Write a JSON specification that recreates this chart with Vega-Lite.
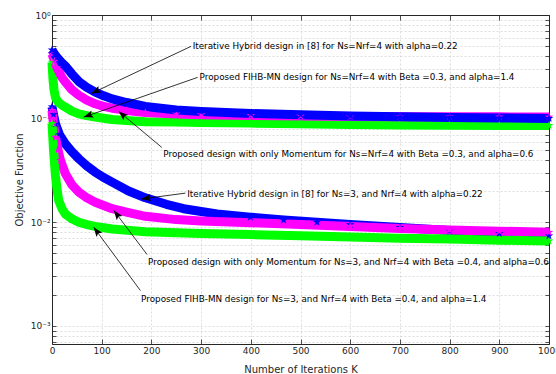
{
  "$schema": "https://vega.github.io/schema/vega-lite/v6.json",
  "autosize": "none",
  "width": 497,
  "height": 329,
  "padding": {"left": 52, "top": 15, "right": 7, "bottom": 30},
  "background": "white",
  "config": {
    "view": {"stroke": null},
    "font": "DejaVu Sans",
    "axis": {
      "domainColor": "#262626",
      "tickColor": "#262626",
      "labelColor": "#262626",
      "titleColor": "#262626",
      "labelFont": "DejaVu Sans",
      "titleFont": "DejaVu Sans",
      "labelFontSize": 9,
      "titleFontSize": 10,
      "titleFontWeight": "normal",
      "gridColor": "#d4d4d4",
      "gridDash": [2, 2],
      "gridWidth": 0.8,
      "labelFlush": false,
      "labelOverlap": false,
      "labelBound": false,
      "domainWidth": 1,
      "tickWidth": 0.8
    }
  },
  "datasets": {
    "curves": [
      {"series": "Iterative Hybrid [8], Ns=3, Nrf=4", "method": "Iterative Hybrid [8]", "k": 0, "f": 0.13},
      {"series": "Iterative Hybrid [8], Ns=3, Nrf=4", "method": "Iterative Hybrid [8]", "k": 3, "f": 0.11},
      {"series": "Iterative Hybrid [8], Ns=3, Nrf=4", "method": "Iterative Hybrid [8]", "k": 7, "f": 0.089},
      {"series": "Iterative Hybrid [8], Ns=3, Nrf=4", "method": "Iterative Hybrid [8]", "k": 15, "f": 0.07},
      {"series": "Iterative Hybrid [8], Ns=3, Nrf=4", "method": "Iterative Hybrid [8]", "k": 27, "f": 0.057},
      {"series": "Iterative Hybrid [8], Ns=3, Nrf=4", "method": "Iterative Hybrid [8]", "k": 40, "f": 0.048},
      {"series": "Iterative Hybrid [8], Ns=3, Nrf=4", "method": "Iterative Hybrid [8]", "k": 54, "f": 0.041},
      {"series": "Iterative Hybrid [8], Ns=3, Nrf=4", "method": "Iterative Hybrid [8]", "k": 70, "f": 0.035},
      {"series": "Iterative Hybrid [8], Ns=3, Nrf=4", "method": "Iterative Hybrid [8]", "k": 87, "f": 0.0304},
      {"series": "Iterative Hybrid [8], Ns=3, Nrf=4", "method": "Iterative Hybrid [8]", "k": 104, "f": 0.027},
      {"series": "Iterative Hybrid [8], Ns=3, Nrf=4", "method": "Iterative Hybrid [8]", "k": 121, "f": 0.0244},
      {"series": "Iterative Hybrid [8], Ns=3, Nrf=4", "method": "Iterative Hybrid [8]", "k": 154, "f": 0.02},
      {"series": "Iterative Hybrid [8], Ns=3, Nrf=4", "method": "Iterative Hybrid [8]", "k": 188, "f": 0.0172},
      {"series": "Iterative Hybrid [8], Ns=3, Nrf=4", "method": "Iterative Hybrid [8]", "k": 230, "f": 0.0149},
      {"series": "Iterative Hybrid [8], Ns=3, Nrf=4", "method": "Iterative Hybrid [8]", "k": 265, "f": 0.0135},
      {"series": "Iterative Hybrid [8], Ns=3, Nrf=4", "method": "Iterative Hybrid [8]", "k": 332, "f": 0.012},
      {"series": "Iterative Hybrid [8], Ns=3, Nrf=4", "method": "Iterative Hybrid [8]", "k": 399, "f": 0.0112},
      {"series": "Iterative Hybrid [8], Ns=3, Nrf=4", "method": "Iterative Hybrid [8]", "k": 466, "f": 0.0105},
      {"series": "Iterative Hybrid [8], Ns=3, Nrf=4", "method": "Iterative Hybrid [8]", "k": 533, "f": 0.01},
      {"series": "Iterative Hybrid [8], Ns=3, Nrf=4", "method": "Iterative Hybrid [8]", "k": 600, "f": 0.0095},
      {"series": "Iterative Hybrid [8], Ns=3, Nrf=4", "method": "Iterative Hybrid [8]", "k": 700, "f": 0.0089},
      {"series": "Iterative Hybrid [8], Ns=3, Nrf=4", "method": "Iterative Hybrid [8]", "k": 800, "f": 0.0083},
      {"series": "Iterative Hybrid [8], Ns=3, Nrf=4", "method": "Iterative Hybrid [8]", "k": 900, "f": 0.0078},
      {"series": "Iterative Hybrid [8], Ns=3, Nrf=4", "method": "Iterative Hybrid [8]", "k": 1000, "f": 0.0074},

      {"series": "Momentum only, Ns=3, Nrf=4", "method": "Momentum only", "k": 0, "f": 0.12},
      {"series": "Momentum only, Ns=3, Nrf=4", "method": "Momentum only", "k": 3, "f": 0.09},
      {"series": "Momentum only, Ns=3, Nrf=4", "method": "Momentum only", "k": 7, "f": 0.066},
      {"series": "Momentum only, Ns=3, Nrf=4", "method": "Momentum only", "k": 12, "f": 0.05},
      {"series": "Momentum only, Ns=3, Nrf=4", "method": "Momentum only", "k": 17, "f": 0.0395},
      {"series": "Momentum only, Ns=3, Nrf=4", "method": "Momentum only", "k": 27, "f": 0.0294},
      {"series": "Momentum only, Ns=3, Nrf=4", "method": "Momentum only", "k": 40, "f": 0.023},
      {"series": "Momentum only, Ns=3, Nrf=4", "method": "Momentum only", "k": 54, "f": 0.0195},
      {"series": "Momentum only, Ns=3, Nrf=4", "method": "Momentum only", "k": 70, "f": 0.0172},
      {"series": "Momentum only, Ns=3, Nrf=4", "method": "Momentum only", "k": 87, "f": 0.0156},
      {"series": "Momentum only, Ns=3, Nrf=4", "method": "Momentum only", "k": 104, "f": 0.0145},
      {"series": "Momentum only, Ns=3, Nrf=4", "method": "Momentum only", "k": 121, "f": 0.0135},
      {"series": "Momentum only, Ns=3, Nrf=4", "method": "Momentum only", "k": 154, "f": 0.0124},
      {"series": "Momentum only, Ns=3, Nrf=4", "method": "Momentum only", "k": 188, "f": 0.0114},
      {"series": "Momentum only, Ns=3, Nrf=4", "method": "Momentum only", "k": 250, "f": 0.0106},
      {"series": "Momentum only, Ns=3, Nrf=4", "method": "Momentum only", "k": 300, "f": 0.0103},
      {"series": "Momentum only, Ns=3, Nrf=4", "method": "Momentum only", "k": 400, "f": 0.0099},
      {"series": "Momentum only, Ns=3, Nrf=4", "method": "Momentum only", "k": 500, "f": 0.0095},
      {"series": "Momentum only, Ns=3, Nrf=4", "method": "Momentum only", "k": 600, "f": 0.0091},
      {"series": "Momentum only, Ns=3, Nrf=4", "method": "Momentum only", "k": 700, "f": 0.0087},
      {"series": "Momentum only, Ns=3, Nrf=4", "method": "Momentum only", "k": 800, "f": 0.0084},
      {"series": "Momentum only, Ns=3, Nrf=4", "method": "Momentum only", "k": 900, "f": 0.0082},
      {"series": "Momentum only, Ns=3, Nrf=4", "method": "Momentum only", "k": 1000, "f": 0.008},

      {"series": "FIHB-MN, Ns=3, Nrf=4", "method": "FIHB-MN", "k": 0, "f": 0.09},
      {"series": "FIHB-MN, Ns=3, Nrf=4", "method": "FIHB-MN", "k": 3, "f": 0.05},
      {"series": "FIHB-MN, Ns=3, Nrf=4", "method": "FIHB-MN", "k": 7, "f": 0.028},
      {"series": "FIHB-MN, Ns=3, Nrf=4", "method": "FIHB-MN", "k": 10, "f": 0.021},
      {"series": "FIHB-MN, Ns=3, Nrf=4", "method": "FIHB-MN", "k": 13.5, "f": 0.0162},
      {"series": "FIHB-MN, Ns=3, Nrf=4", "method": "FIHB-MN", "k": 20, "f": 0.0135},
      {"series": "FIHB-MN, Ns=3, Nrf=4", "method": "FIHB-MN", "k": 27, "f": 0.012},
      {"series": "FIHB-MN, Ns=3, Nrf=4", "method": "FIHB-MN", "k": 40, "f": 0.0108},
      {"series": "FIHB-MN, Ns=3, Nrf=4", "method": "FIHB-MN", "k": 54, "f": 0.01},
      {"series": "FIHB-MN, Ns=3, Nrf=4", "method": "FIHB-MN", "k": 70, "f": 0.0095},
      {"series": "FIHB-MN, Ns=3, Nrf=4", "method": "FIHB-MN", "k": 87, "f": 0.0091},
      {"series": "FIHB-MN, Ns=3, Nrf=4", "method": "FIHB-MN", "k": 121, "f": 0.0086},
      {"series": "FIHB-MN, Ns=3, Nrf=4", "method": "FIHB-MN", "k": 188, "f": 0.0081},
      {"series": "FIHB-MN, Ns=3, Nrf=4", "method": "FIHB-MN", "k": 250, "f": 0.0079},
      {"series": "FIHB-MN, Ns=3, Nrf=4", "method": "FIHB-MN", "k": 300, "f": 0.0078},
      {"series": "FIHB-MN, Ns=3, Nrf=4", "method": "FIHB-MN", "k": 400, "f": 0.0076},
      {"series": "FIHB-MN, Ns=3, Nrf=4", "method": "FIHB-MN", "k": 500, "f": 0.0074},
      {"series": "FIHB-MN, Ns=3, Nrf=4", "method": "FIHB-MN", "k": 600, "f": 0.0072},
      {"series": "FIHB-MN, Ns=3, Nrf=4", "method": "FIHB-MN", "k": 700, "f": 0.007},
      {"series": "FIHB-MN, Ns=3, Nrf=4", "method": "FIHB-MN", "k": 800, "f": 0.0069},
      {"series": "FIHB-MN, Ns=3, Nrf=4", "method": "FIHB-MN", "k": 900, "f": 0.0067},
      {"series": "FIHB-MN, Ns=3, Nrf=4", "method": "FIHB-MN", "k": 1000, "f": 0.0066},

      {"series": "FIHB-MN, Ns=Nrf=4", "method": "FIHB-MN", "k": 0, "f": 0.35},
      {"series": "FIHB-MN, Ns=Nrf=4", "method": "FIHB-MN", "k": 2, "f": 0.24},
      {"series": "FIHB-MN, Ns=Nrf=4", "method": "FIHB-MN", "k": 4, "f": 0.19},
      {"series": "FIHB-MN, Ns=Nrf=4", "method": "FIHB-MN", "k": 7, "f": 0.16},
      {"series": "FIHB-MN, Ns=Nrf=4", "method": "FIHB-MN", "k": 12, "f": 0.145},
      {"series": "FIHB-MN, Ns=Nrf=4", "method": "FIHB-MN", "k": 20, "f": 0.135},
      {"series": "FIHB-MN, Ns=Nrf=4", "method": "FIHB-MN", "k": 27, "f": 0.129},
      {"series": "FIHB-MN, Ns=Nrf=4", "method": "FIHB-MN", "k": 40, "f": 0.118},
      {"series": "FIHB-MN, Ns=Nrf=4", "method": "FIHB-MN", "k": 54, "f": 0.111},
      {"series": "FIHB-MN, Ns=Nrf=4", "method": "FIHB-MN", "k": 70, "f": 0.107},
      {"series": "FIHB-MN, Ns=Nrf=4", "method": "FIHB-MN", "k": 87, "f": 0.1035},
      {"series": "FIHB-MN, Ns=Nrf=4", "method": "FIHB-MN", "k": 121, "f": 0.098},
      {"series": "FIHB-MN, Ns=Nrf=4", "method": "FIHB-MN", "k": 150, "f": 0.096},
      {"series": "FIHB-MN, Ns=Nrf=4", "method": "FIHB-MN", "k": 188, "f": 0.0935},
      {"series": "FIHB-MN, Ns=Nrf=4", "method": "FIHB-MN", "k": 250, "f": 0.0925},
      {"series": "FIHB-MN, Ns=Nrf=4", "method": "FIHB-MN", "k": 300, "f": 0.0915},
      {"series": "FIHB-MN, Ns=Nrf=4", "method": "FIHB-MN", "k": 400, "f": 0.0905},
      {"series": "FIHB-MN, Ns=Nrf=4", "method": "FIHB-MN", "k": 500, "f": 0.089},
      {"series": "FIHB-MN, Ns=Nrf=4", "method": "FIHB-MN", "k": 600, "f": 0.0875},
      {"series": "FIHB-MN, Ns=Nrf=4", "method": "FIHB-MN", "k": 700, "f": 0.087},
      {"series": "FIHB-MN, Ns=Nrf=4", "method": "FIHB-MN", "k": 800, "f": 0.0865},
      {"series": "FIHB-MN, Ns=Nrf=4", "method": "FIHB-MN", "k": 900, "f": 0.086},
      {"series": "FIHB-MN, Ns=Nrf=4", "method": "FIHB-MN", "k": 1000, "f": 0.0858},

      {"series": "Momentum only, Ns=Nrf=4", "method": "Momentum only", "k": 0, "f": 0.42},
      {"series": "Momentum only, Ns=Nrf=4", "method": "Momentum only", "k": 5, "f": 0.36},
      {"series": "Momentum only, Ns=Nrf=4", "method": "Momentum only", "k": 10, "f": 0.31},
      {"series": "Momentum only, Ns=Nrf=4", "method": "Momentum only", "k": 20, "f": 0.25},
      {"series": "Momentum only, Ns=Nrf=4", "method": "Momentum only", "k": 27, "f": 0.225},
      {"series": "Momentum only, Ns=Nrf=4", "method": "Momentum only", "k": 40, "f": 0.19},
      {"series": "Momentum only, Ns=Nrf=4", "method": "Momentum only", "k": 54, "f": 0.168},
      {"series": "Momentum only, Ns=Nrf=4", "method": "Momentum only", "k": 70, "f": 0.151},
      {"series": "Momentum only, Ns=Nrf=4", "method": "Momentum only", "k": 87, "f": 0.139},
      {"series": "Momentum only, Ns=Nrf=4", "method": "Momentum only", "k": 104, "f": 0.131},
      {"series": "Momentum only, Ns=Nrf=4", "method": "Momentum only", "k": 121, "f": 0.126},
      {"series": "Momentum only, Ns=Nrf=4", "method": "Momentum only", "k": 150, "f": 0.12},
      {"series": "Momentum only, Ns=Nrf=4", "method": "Momentum only", "k": 188, "f": 0.1145},
      {"series": "Momentum only, Ns=Nrf=4", "method": "Momentum only", "k": 250, "f": 0.111},
      {"series": "Momentum only, Ns=Nrf=4", "method": "Momentum only", "k": 300, "f": 0.109},
      {"series": "Momentum only, Ns=Nrf=4", "method": "Momentum only", "k": 400, "f": 0.107},
      {"series": "Momentum only, Ns=Nrf=4", "method": "Momentum only", "k": 500, "f": 0.106},
      {"series": "Momentum only, Ns=Nrf=4", "method": "Momentum only", "k": 600, "f": 0.105},
      {"series": "Momentum only, Ns=Nrf=4", "method": "Momentum only", "k": 700, "f": 0.1045},
      {"series": "Momentum only, Ns=Nrf=4", "method": "Momentum only", "k": 800, "f": 0.104},
      {"series": "Momentum only, Ns=Nrf=4", "method": "Momentum only", "k": 900, "f": 0.104},
      {"series": "Momentum only, Ns=Nrf=4", "method": "Momentum only", "k": 1000, "f": 0.1035},

      {"series": "Iterative Hybrid [8], Ns=Nrf=4", "method": "Iterative Hybrid [8]", "k": 0, "f": 0.46},
      {"series": "Iterative Hybrid [8], Ns=Nrf=4", "method": "Iterative Hybrid [8]", "k": 5, "f": 0.42},
      {"series": "Iterative Hybrid [8], Ns=Nrf=4", "method": "Iterative Hybrid [8]", "k": 10, "f": 0.39},
      {"series": "Iterative Hybrid [8], Ns=Nrf=4", "method": "Iterative Hybrid [8]", "k": 20, "f": 0.345},
      {"series": "Iterative Hybrid [8], Ns=Nrf=4", "method": "Iterative Hybrid [8]", "k": 27, "f": 0.322},
      {"series": "Iterative Hybrid [8], Ns=Nrf=4", "method": "Iterative Hybrid [8]", "k": 40, "f": 0.27},
      {"series": "Iterative Hybrid [8], Ns=Nrf=4", "method": "Iterative Hybrid [8]", "k": 54, "f": 0.228},
      {"series": "Iterative Hybrid [8], Ns=Nrf=4", "method": "Iterative Hybrid [8]", "k": 70, "f": 0.2},
      {"series": "Iterative Hybrid [8], Ns=Nrf=4", "method": "Iterative Hybrid [8]", "k": 87, "f": 0.18},
      {"series": "Iterative Hybrid [8], Ns=Nrf=4", "method": "Iterative Hybrid [8]", "k": 104, "f": 0.166},
      {"series": "Iterative Hybrid [8], Ns=Nrf=4", "method": "Iterative Hybrid [8]", "k": 121, "f": 0.155},
      {"series": "Iterative Hybrid [8], Ns=Nrf=4", "method": "Iterative Hybrid [8]", "k": 150, "f": 0.143},
      {"series": "Iterative Hybrid [8], Ns=Nrf=4", "method": "Iterative Hybrid [8]", "k": 188, "f": 0.131},
      {"series": "Iterative Hybrid [8], Ns=Nrf=4", "method": "Iterative Hybrid [8]", "k": 250, "f": 0.121},
      {"series": "Iterative Hybrid [8], Ns=Nrf=4", "method": "Iterative Hybrid [8]", "k": 300, "f": 0.117},
      {"series": "Iterative Hybrid [8], Ns=Nrf=4", "method": "Iterative Hybrid [8]", "k": 400, "f": 0.112},
      {"series": "Iterative Hybrid [8], Ns=Nrf=4", "method": "Iterative Hybrid [8]", "k": 500, "f": 0.109},
      {"series": "Iterative Hybrid [8], Ns=Nrf=4", "method": "Iterative Hybrid [8]", "k": 600, "f": 0.106},
      {"series": "Iterative Hybrid [8], Ns=Nrf=4", "method": "Iterative Hybrid [8]", "k": 700, "f": 0.104},
      {"series": "Iterative Hybrid [8], Ns=Nrf=4", "method": "Iterative Hybrid [8]", "k": 800, "f": 0.1025},
      {"series": "Iterative Hybrid [8], Ns=Nrf=4", "method": "Iterative Hybrid [8]", "k": 900, "f": 0.1015},
      {"series": "Iterative Hybrid [8], Ns=Nrf=4", "method": "Iterative Hybrid [8]", "k": 1000, "f": 0.1005}
    ],
    "notes": [
      {"label": "Iterative Hybrid design in [8] for Ns=Nrf=4 with alpha=0.22", "lx": 283, "ly": 0.499, "tx": 280, "ty": 0.499, "hx": 79.3, "hy": 0.175, "angle": 244.6},
      {"label": "Proposed FIHB-MN design for Ns=Nrf=4 with Beta =0.3, and alpha=1.4", "lx": 297, "ly": 0.25, "tx": 293, "ty": 0.25, "hx": 63.8, "hy": 0.1034, "angle": 251},
      {"label": "Proposed design with only Momentum for Ns=Nrf=4 with Beta =0.3, and alpha=0.6", "lx": 224, "ly": 0.0454, "tx": 221, "ty": 0.0527, "hx": 134.2, "hy": 0.1174, "angle": 310.9},
      {"label": "Iterative Hybrid design in [8] for Ns=3, and Nrf=4 with alpha=0.22", "lx": 272, "ly": 0.0188, "tx": 268.4, "ty": 0.0191, "hx": 179.9, "hy": 0.01676, "angle": 262.2},
      {"label": "Proposed design with only Momentum  for Ns=3, and Nrf=4 with Beta =0.4, and alpha=0.6", "lx": 193.4, "ly": 0.00411, "tx": 191.3, "ty": 0.00488, "hx": 124.5, "hy": 0.01297, "angle": 323},
      {"label": "Proposed FIHB-MN design for Ns=3, and Nrf=4 with Beta =0.4, and alpha=1.4", "lx": 179.3, "ly": 0.00182, "tx": 177.9, "ty": 0.00219, "hx": 83.9, "hy": 0.00895, "angle": 323.6}
    ]
  },
  "resolve": {"axis": {"x": "independent", "y": "independent"}},
  "layer": [
    {
      "data": {"name": "curves"},
      "mark": {"type": "line", "strokeWidth": 9, "strokeCap": "butt", "strokeJoin": "round"},
      "encoding": {
        "x": {
          "field": "k", "type": "quantitative",
          "scale": {"domain": [0, 1000], "nice": false, "zero": false},
          "axis": {
            "orient": "bottom",
            "title": "Number of Iterations K",
            "format": "d",
            "values": [0, 100, 200, 300, 400, 500, 600, 700, 800, 900, 1000],
            "tickSize": -5,
            "labelPadding": 7,
            "titlePadding": 9,
            "grid": true
          }
        },
        "y": {
          "field": "f", "type": "quantitative",
          "scale": {"type": "log", "domain": [0.000668, 1], "nice": false},
          "axis": {
            "orient": "left",
            "title": "Objective Function",
            "values": [0.0007, 0.0008, 0.0009, 0.001, 0.002, 0.003, 0.004, 0.005, 0.006, 0.007, 0.008, 0.009, 0.01, 0.02, 0.03, 0.04, 0.05, 0.06, 0.07, 0.08, 0.09, 0.1, 0.2, 0.3, 0.4, 0.5, 0.6, 0.7, 0.8, 0.9, 1],
            "labelExpr": "datum.value == 1 ? '10⁰' : datum.value == 0.1 ? '10⁻¹' : datum.value == 0.01 ? '10⁻²' : datum.value == 0.001 ? '10⁻³' : ''",
            "tickSize": -4,
            "labelPadding": 6,
            "titlePadding": 6,
            "grid": true
          }
        },
        "color": {
          "field": "method", "type": "nominal",
          "scale": {"domain": ["Iterative Hybrid [8]", "Momentum only", "FIHB-MN"], "range": ["#0000ff", "#ff00ff", "#00ff00"]},
          "legend": null
        },
        "detail": {"field": "series", "type": "nominal"}
      }
    },
    {
      "data": {"name": "curves"},
      "mark": {"type": "point", "filled": true, "opacity": 1, "size": 80, "shape": "M0,-1L0.235,-0.324L0.951,-0.309L0.38,0.124L0.588,0.809L0,0.4L-0.588,0.809L-0.38,0.124L-0.951,-0.309L-0.235,-0.324Z"},
      "encoding": {
        "x": {"field": "k", "type": "quantitative", "axis": null},
        "y": {"field": "f", "type": "quantitative", "axis": null},
        "color": {"field": "method", "type": "nominal", "legend": null}
      }
    },
    {
      "data": {"name": "notes"},
      "mark": {"type": "rule", "color": "#000000", "strokeWidth": 0.8},
      "encoding": {
        "x": {"field": "tx", "type": "quantitative", "axis": null},
        "y": {"field": "ty", "type": "quantitative", "axis": null},
        "x2": {"field": "hx"},
        "y2": {"field": "hy"}
      }
    },
    {
      "data": {"name": "notes"},
      "mark": {"type": "point", "filled": true, "color": "#000000", "opacity": 1, "size": 144, "shape": "M0,0L-0.6,1.6L0,1.25L0.6,1.6Z"},
      "encoding": {
        "x": {"field": "hx", "type": "quantitative", "axis": null},
        "y": {"field": "hy", "type": "quantitative", "axis": null},
        "angle": {"field": "angle", "type": "quantitative", "scale": null}
      }
    },
    {
      "data": {"name": "notes"},
      "mark": {"type": "text", "align": "left", "baseline": "middle", "fontSize": 8.8, "font": "DejaVu Sans", "color": "#000000"},
      "encoding": {
        "x": {
          "field": "lx", "type": "quantitative",
          "axis": {"orient": "top", "title": null, "labels": false, "grid": false, "tickSize": -5, "values": [0, 100, 200, 300, 400, 500, 600, 700, 800, 900, 1000]}
        },
        "y": {
          "field": "ly", "type": "quantitative",
          "axis": {"orient": "right", "title": null, "labels": false, "grid": false, "tickSize": -4, "values": [0.0007, 0.0008, 0.0009, 0.001, 0.002, 0.003, 0.004, 0.005, 0.006, 0.007, 0.008, 0.009, 0.01, 0.02, 0.03, 0.04, 0.05, 0.06, 0.07, 0.08, 0.09, 0.1, 0.2, 0.3, 0.4, 0.5, 0.6, 0.7, 0.8, 0.9, 1]}
        },
        "text": {"field": "label", "type": "nominal"}
      }
    }
  ]
}
